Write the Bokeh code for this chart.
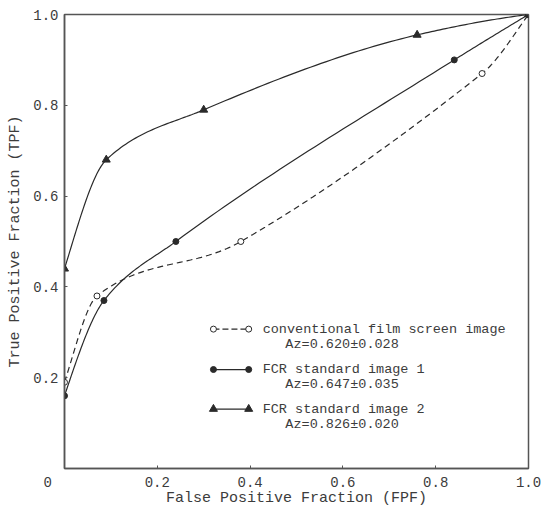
import numpy as np
from bokeh.plotting import figure
from bokeh.models import FixedTicker, Range1d, PrintfTickFormatter, Label
from bokeh.embed import file_html
from bokeh.resources import INLINE

# ---------------- data ----------------
conv_fpf = [0.0, 0.07, 0.38, 0.90, 1.0]
conv_tpf = [0.19, 0.38, 0.50, 0.87, 1.0]
fcr1_fpf = [0.0, 0.085, 0.24, 0.84, 1.0]
fcr1_tpf = [0.16, 0.37, 0.50, 0.90, 1.0]
fcr2_fpf = [0.0, 0.09, 0.30, 0.76, 1.0]
fcr2_tpf = [0.44, 0.68, 0.79, 0.955, 1.0]
x_tick_values = [0.0, 0.2, 0.4, 0.6, 0.8, 1.0]
y_tick_values = [0.2, 0.4, 0.6, 0.8, 1.0]
origin_label = "0"
legend_names = ["conventional film screen image", "FCR standard image 1", "FCR standard image 2"]
legend_az = ["Az=0.620\u00b10.028", "Az=0.647\u00b10.035", "Az=0.826\u00b10.020"]
x_title = "False Positive Fraction (FPF)"
y_title = "True Positive Fraction (TPF)"

FONT = "Liberation Mono"
INK = "#2a2a2a"
TXT = "#3c3c3c"
FRAME = "#555555"


def smooth(x, y, n=40, central=False):
    """Smooth cubic Hermite curve through the points, for drawing."""
    x = np.asarray(x, float)
    y = np.asarray(y, float)
    h = np.diff(x)
    d = np.diff(y) / h
    m = np.zeros_like(x)
    for k in range(1, len(x) - 1):
        if central:
            m[k] = (y[k + 1] - y[k - 1]) / (x[k + 1] - x[k - 1])
        elif d[k - 1] * d[k] > 0:
            w1 = 2 * h[k] + h[k - 1]
            w2 = h[k] + 2 * h[k - 1]
            m[k] = (w1 + w2) / (w1 / d[k - 1] + w2 / d[k])

    def end(h0, h1, d0, d1):
        s = ((2 * h0 + h1) * d0 - h0 * d1) / (h0 + h1)
        if s * d0 <= 0:
            return 0.0
        if d0 * d1 <= 0 and abs(s) > abs(3 * d0):
            return 3 * d0
        return s

    m[0] = end(h[0], h[1], d[0], d[1])
    m[-1] = end(h[-1], h[-2], d[-1], d[-2])
    xs, ys = [], []
    for k in range(len(h)):
        t = np.linspace(0, 1, n, endpoint=(k == len(h) - 1))
        h00 = 2 * t**3 - 3 * t**2 + 1
        h10 = t**3 - 2 * t**2 + t
        h01 = -2 * t**3 + 3 * t**2
        h11 = t**3 - t**2
        xs.extend(x[k] + t * h[k])
        ys.extend(h00 * y[k] + h10 * h[k] * m[k] + h01 * y[k + 1] + h11 * h[k] * m[k + 1])
    return xs, ys


p = figure(width=549, height=509, x_range=Range1d(0, 1), y_range=Range1d(0, 1),
           output_backend="svg", toolbar_location=None,
           min_border_left=64, min_border_right=21, min_border_top=14, min_border_bottom=36)
p.background_fill_color = "white"
p.border_fill_color = "white"
p.xgrid.visible = False
p.ygrid.visible = False
p.outline_line_color = FRAME
p.outline_line_width = 1.5

p.xaxis.ticker = FixedTicker(ticks=x_tick_values)
p.yaxis.ticker = FixedTicker(ticks=y_tick_values)
for ax in (p.xaxis[0], p.yaxis[0]):
    ax.formatter = PrintfTickFormatter(format="%.1f")
    ax.major_tick_in = 3
    ax.major_tick_out = 0
    ax.minor_tick_line_color = None
    ax.axis_line_color = FRAME
    ax.axis_line_width = 1.5
    ax.major_tick_line_color = FRAME
    ax.major_label_text_font = FONT
    ax.major_label_text_font_size = "14px"
    ax.major_label_text_color = TXT
    ax.major_label_standoff = 6
    ax.axis_label_text_font = FONT
    ax.axis_label_text_font_size = "15px"
    ax.axis_label_text_font_style = "normal"
    ax.axis_label_text_color = TXT
# the shared origin label sits left of the corner, as in the original
p.xaxis[0].major_label_overrides = {0: origin_label + "\u00a0" * 4}
p.xaxis[0].axis_label = x_title
p.xaxis[0].axis_label_standoff = -4
p.yaxis[0].axis_label = y_title
p.yaxis[0].axis_label_standoff = 6

# curves
cx, cy = smooth(conv_fpf, conv_tpf, central=True)
p.line(cx, cy, line_color=INK, line_width=1.2, line_dash="6 4")
f1x, f1y = smooth(fcr1_fpf, fcr1_tpf)
p.line(f1x, f1y, line_color=INK, line_width=1.2)
f2x, f2y = smooth(fcr2_fpf, fcr2_tpf)
p.line(f2x, f2y, line_color=INK, line_width=1.2)

# points
p.scatter(conv_fpf, conv_tpf, marker="circle", size=6, fill_color="white",
          line_color=INK, line_width=1)
p.scatter(fcr1_fpf, fcr1_tpf, marker="circle", size=6, fill_color=INK, line_color=INK)
p.scatter(fcr2_fpf, fcr2_tpf, marker="triangle", size=8, fill_color=INK, line_color=INK)

# legend (drawn by hand, as in the original figure)
sw_x0, sw_x1 = 0.321, 0.397
name_x, az_x = 0.427, 0.476
row_y = [0.307, 0.218, 0.131]
az_dy = 0.033
styles = [
    dict(marker="circle", size=6, fill_color="white", dash="6 3"),
    dict(marker="circle", size=6, fill_color=INK, dash="solid"),
    dict(marker="triangle", size=8, fill_color=INK, dash="solid"),
]
for name, az, yy, st in zip(legend_names, legend_az, row_y, styles):
    p.line([sw_x0, sw_x1], [yy, yy], line_color=INK, line_width=1.2, line_dash=st["dash"])
    p.scatter([sw_x0, sw_x1], [yy, yy], marker=st["marker"], size=st["size"],
              fill_color=st["fill_color"], line_color=INK)
    p.add_layout(Label(x=name_x, y=yy, text=name, text_font=FONT, text_font_size="13.5px",
                       text_color=TXT, text_align="left", text_baseline="middle"))
    p.add_layout(Label(x=az_x, y=yy - az_dy, text=az, text_font=FONT, text_font_size="13.5px",
                       text_color=TXT, text_align="left", text_baseline="middle"))

open("out.html", "w").write(file_html(p, INLINE))
